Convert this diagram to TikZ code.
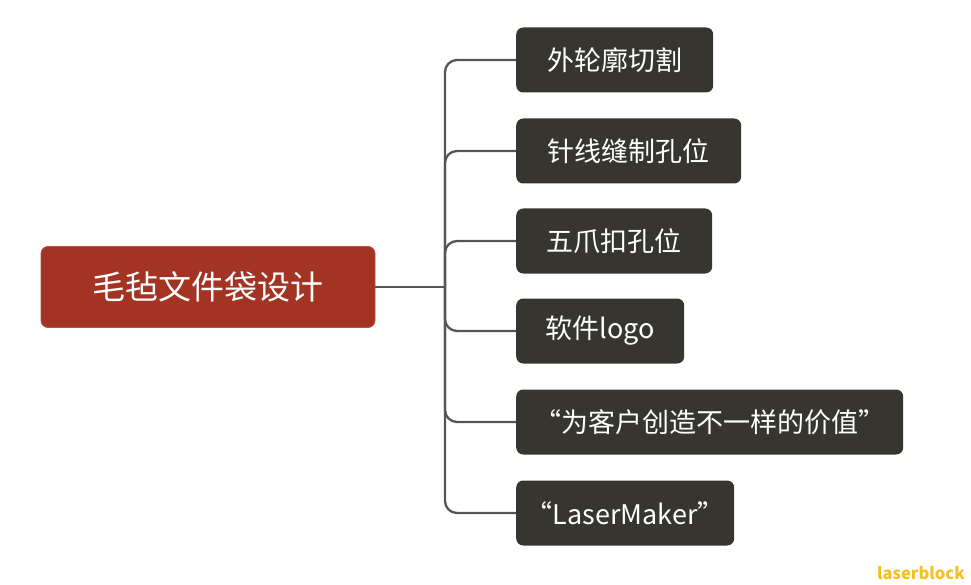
\documentclass[tikz,border=0pt]{standalone}
\usepackage{fontspec}
\setmainfont{Noto Sans CJK SC}
\definecolor{rootred}{HTML}{A33424}
\definecolor{leafdark}{HTML}{363530}
\definecolor{linegray}{HTML}{555555}
\definecolor{wmyellow}{HTML}{F5C024}
\begin{document}
\begin{tikzpicture}[x=1pt,y=-1pt,
  rootbox/.style={fill=rootred,draw=rootred!85!white,line width=0.8pt,rounded corners=7pt,text=white,font=\fontsize{33}{36}\selectfont,minimum width=334pt,minimum height=81pt,inner sep=0pt},
  leafbox/.style={fill=leafdark,rounded corners=7pt,text=white,font=\fontsize{27}{30}\selectfont,minimum height=65pt,inner sep=0pt,anchor=west},
  conn/.style={draw=linegray,line width=2.3pt,rounded corners=12pt}]
\useasboundingbox (0,0) rectangle (971,585);
\node[rootbox] (root) at (208,287) {毛毡文件袋设计};
\node[leafbox,minimum width=197pt] (c1) at (516,60) {外轮廓切割};
\node[leafbox,minimum width=225pt] (c2) at (516,151) {针线缝制孔位};
\node[leafbox,minimum width=196pt] (c3) at (516,241) {五爪扣孔位};
\node[leafbox,minimum width=168pt] (c4) at (516,331) {软件logo};
\node[leafbox,minimum width=387pt] (c5) at (516,422) {“为客户创造不一样的价值”};
\node[leafbox,minimum width=218pt] (c6) at (516,513) {“LaserMaker”};
\coordinate (j) at (445,287);
\draw[conn] (root.east) -- (j);
\foreach \c in {c1,c2,c3,c4,c5,c6}{
  \draw[conn] (j) |- (\c.west);
}
\node[text=wmyellow,font=\bfseries\fontsize{16.5}{18}\selectfont,inner sep=0pt] (wm) at (921,573) {laserblock};
\end{tikzpicture}
\end{document}
